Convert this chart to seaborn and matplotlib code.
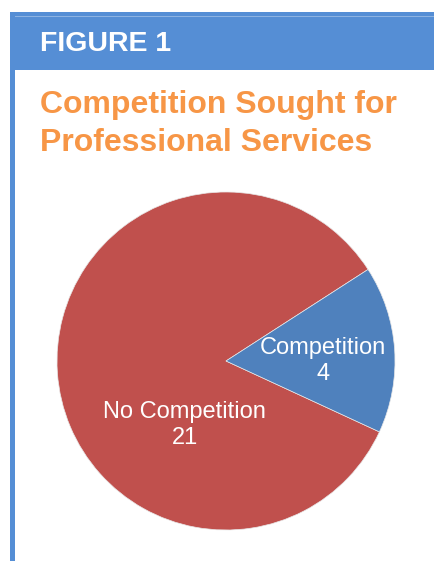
import matplotlib
matplotlib.use("Agg")
import matplotlib.pyplot as plt
import seaborn as sns
from matplotlib.patches import Rectangle

categories = ["No Competition", "Competition"]
values = [21, 4]
colors = ["#C0504D", "#4F81BD"]

sns.set_style("white")
plt.rcParams['font.family'] = ['Liberation Sans', 'DejaVu Sans']

W, H = 434, 561
fig = plt.figure(figsize=(W / 100, H / 100), dpi=100)
fig.patch.set_facecolor("white")

# header bar and left border
fig.patches.append(Rectangle((10 / W, 0), 5 / W, (H - 12) / H, transform=fig.transFigure,
                             facecolor="#558ED5", edgecolor="none"))
fig.patches.append(Rectangle((10 / W, (H - 70) / H), (W - 10) / W, 58 / H, transform=fig.transFigure,
                             facecolor="#558ED5", edgecolor="none"))
fig.patches.append(Rectangle((15 / W, (H - 17) / H), (W - 15) / W, 1 / H, transform=fig.transFigure,
                             facecolor="#8DB3E2", edgecolor="none"))

fig.text(40 / W, (H - 44) / H, "FIGURE 1", color="white", fontsize=20.5, fontweight="bold",
         ha="left", va="center")
fig.text(40 / W, (H - 105) / H, "Competition Sought for", color="#F79646", fontsize=23,
         fontweight="bold", ha="left", va="center")
fig.text(40 / W, (H - 143) / H, "Professional Services", color="#F79646", fontsize=23,
         fontweight="bold", ha="left", va="center")

cx, cy, r = 226, H - 361, 169
ax = fig.add_axes([(cx - r) / W, (cy - r) / H, 2 * r / W, 2 * r / H])
wedges, texts = ax.pie(values, colors=colors, startangle=32.8, counterclock=True,
                       wedgeprops=dict(edgecolor="#E8E8E8", linewidth=0.5))
ax.set_xlim(-1, 1)
ax.set_ylim(-1, 1)
ax.set_aspect("equal")
ax.axis("off")

label_pos = [(-0.243, -0.379), (0.574, 0.0)]
for cat, val, (x, y) in zip(categories, values, label_pos):
    ax.text(x, y, f"{cat}\n{val}", color="white", fontsize=17, ha="center", va="center",
            linespacing=1.25)

fig.savefig("out.png", dpi=100)
